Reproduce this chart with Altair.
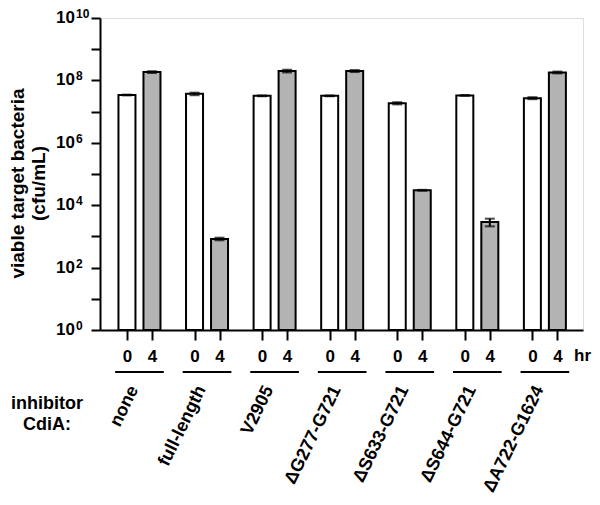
import altair as alt
import pandas as pd

# ---- data ----
groups = ["none", "full-length", "V2905", "\u0394G277-G721", "\u0394S633-G721",
          "\u0394S644-G721", "\u0394A722-G1624"]
hr0_mean = [3.4e7, 3.7e7, 3.2e7, 3.2e7, 1.85e7, 3.3e7, 2.7e7]
hr0_sd = [0.1e7, 0.35e7, 0.1e7, 0.1e7, 0.15e7, 0.1e7, 0.2e7]
hr4_mean = [1.85e8, 8.3e2, 2.0e8, 2.0e8, 3.0e4, 2.9e3, 1.8e8]
hr4_sd = [0.12e8, 0.8e2, 0.2e8, 0.15e8, 0.1e4, 0.8e3, 0.12e8]
times = ["0", "4"]
decades = [0, 2, 4, 6, 8, 10]
y_title = ["viable target bacteria", "(cfu/mL)"]
x_left_label = "inhibitor\nCdiA:"
unit_label = "hr"

FONT = "Liberation Sans"
half = 0.185
PT = 18          # plot top inside the page (px)
PB = 330         # plot bottom inside the page (px)
PAGE_BOTTOM = 497

rows = []
for i, g in enumerate(groups):
    for t, m, s in ((times[0], hr0_mean[i], hr0_sd[i]), (times[1], hr4_mean[i], hr4_sd[i])):
        rows.append(dict(group=g, gi=i, time=t,
                         pos=i + (-half if t == "0" else half),
                         value=m, lo=m - s, hi=m + s, base=1,
                         fill="#ffffff" if t == "0" else "#b3b3b3"))
df = pd.DataFrame(rows)

gdf = pd.DataFrame(dict(group=groups, gi=list(range(len(groups)))))
gdf["u0"] = gdf["gi"] - 0.36
gdf["u1"] = gdf["gi"] + 0.36
gdf["lab"] = gdf["gi"] - 0.08

ydf = pd.DataFrame(dict(d=decades))
ydf["val"] = [10.0 ** d for d in decades]
ydf["base"] = "10"
ydf["exp"] = [str(d) for d in decades]

xs = alt.Scale(domain=[-0.51, 6.49], nice=False, zero=False)
ys = alt.Scale(type="log", domain=[1, 1e10], nice=False)

bars = alt.Chart(df).mark_bar(size=17, stroke="black", strokeWidth=2).encode(
    x=alt.X("pos:Q", scale=xs,
            axis=alt.Axis(values=[float(v) for v in df["pos"]], title=None,
                          labelExpr="datum.value < round(datum.value) ? '0' : '4'",
                          labelFont=FONT, labelFontSize=17, labelFontWeight="bold",
                          labelColor="black", labelBaseline="middle", labelPadding=16,
                          labelOverlap=False, labelFlush=False, labelAngle=0,
                          ticks=True, tickSize=10, tickWidth=2, tickColor="black",
                          domainWidth=2, domainColor="black", grid=False)),
    y=alt.Y("value:Q", scale=ys,
            axis=alt.Axis(values=[10.0 ** k for k in range(11)], labels=False,
                          tickSize=9, tickWidth=2, tickColor="black",
                          domainWidth=2, domainColor="black", grid=False,
                          title=y_title, titleFont=FONT, titleFontSize=19,
                          titleFontWeight="bold", titleColor="black",
                          titleAngle=270, titleAlign="center", titleBaseline="top",
                          titleX=-92, titleY=183 - PT, titleLineHeight=21)),
    y2="base:Q",
    fill=alt.Fill("fill:N", scale=None),
)

err = alt.Chart(df).mark_rule(color="black", strokeWidth=2).encode(
    x=alt.X("pos:Q", scale=xs, axis=None),
    y=alt.Y("lo:Q", scale=ys, axis=None),
    y2="hi:Q",
)
cap_hi = alt.Chart(df).mark_tick(orient="horizontal", size=10, thickness=2, color="black").encode(
    x=alt.X("pos:Q", scale=xs, axis=None),
    y=alt.Y("hi:Q", scale=ys, axis=None),
)
cap_lo = alt.Chart(df).mark_tick(orient="horizontal", size=10, thickness=2, color="black").encode(
    x=alt.X("pos:Q", scale=xs, axis=None),
    y=alt.Y("lo:Q", scale=ys, axis=None),
)

ylab_base = alt.Chart(ydf).mark_text(align="right", baseline="middle", font=FONT,
                                     fontSize=17, fontWeight="bold", color="black", dy=0).encode(
    x=alt.value(-25), y=alt.Y("val:Q", scale=ys, axis=None), text="base:N")
ylab_exp = alt.Chart(ydf).mark_text(align="left", baseline="middle", font=FONT,
                                    fontSize=12, fontWeight="bold", color="black", dy=-4).encode(
    x=alt.value(-24), y=alt.Y("val:Q", scale=ys, axis=None), text="exp:N")

underline = alt.Chart(gdf).mark_rule(color="black", strokeWidth=2).encode(
    x=alt.X("u0:Q", scale=xs, axis=None), x2="u1:Q", y=alt.value(372 - PT))

glabels = alt.Chart(gdf).mark_text(angle=296, align="right", baseline="middle", font=FONT,
                                   fontSize=18, fontWeight="bold", color="black").encode(
    x=alt.X("lab:Q", scale=xs, axis=None), y=alt.value(387 - PT), text="group:N")

hr = alt.Chart(pd.DataFrame(dict(t=[unit_label]))).mark_text(
    align="left", baseline="middle", font=FONT, fontSize=17, fontWeight="bold", color="black").encode(
    x=alt.value(474), y=alt.value(356 - PT), text="t:N")

left = alt.Chart(pd.DataFrame(dict(t=[x_left_label]))).mark_text(
    align="center", baseline="middle", lineBreak="\n", lineHeight=21, font=FONT,
    fontSize=18, fontWeight="bold", color="black").encode(
    x=alt.value(-53), y=alt.value(404 - PT), text="t:N")

chart = alt.layer(bars, err, cap_hi, cap_lo, ylab_base, ylab_exp, underline, glabels, hr, left).properties(
    width=483, height=PB - PT,
    autosize=alt.AutoSizeParams(type="none"),
    padding={"left": 92, "top": PT - 8, "right": 9, "bottom": PAGE_BOTTOM - PB},
).resolve_axis(x="independent", y="independent").configure_view(stroke=None).configure(font=FONT)

chart.save("out.html", embed_options={"renderer": "svg", "actions": False})
